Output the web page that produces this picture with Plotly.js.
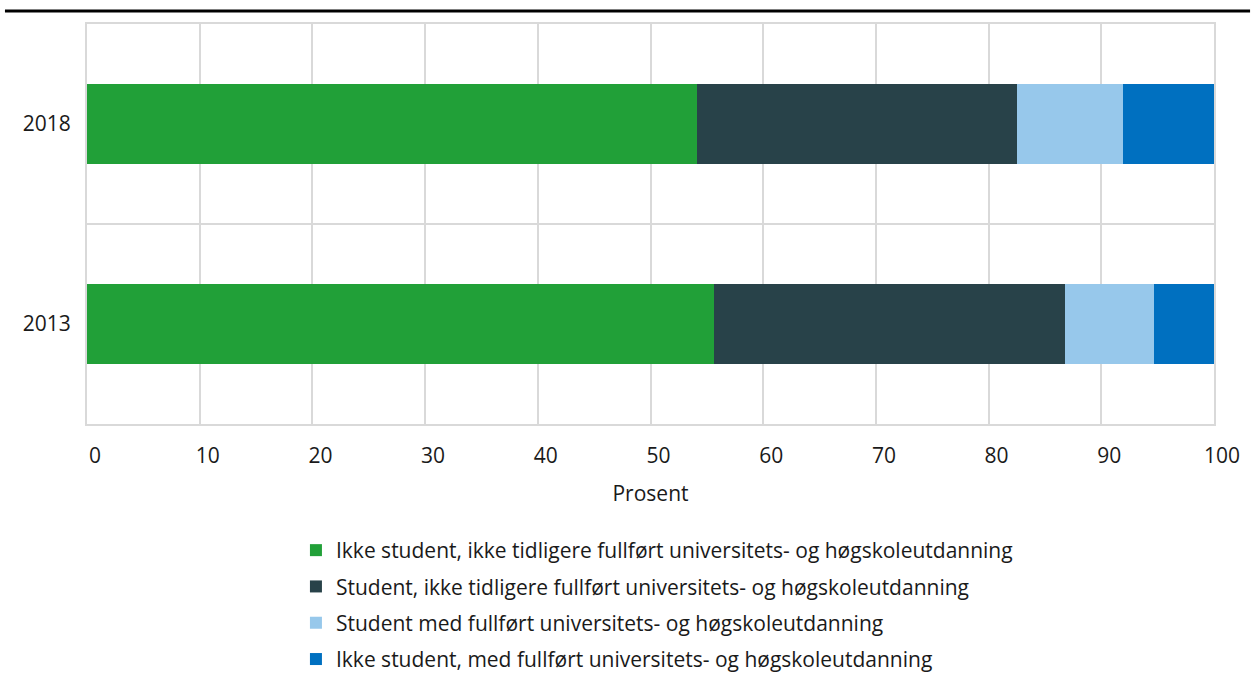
<!DOCTYPE html>
<html>
<head>
<meta charset="utf-8">
<script src="https://cdn.plot.ly/plotly-3.0.1.min.js"></script>
<style>html,body{margin:0;padding:0;background:#fff;}#chart{width:1254px;height:673px;}</style>
</head>
<body>
<div id="chart"></div>
<script>
const years = ['2013', '2018'];
const yearPos = [0, 1];
const seriesNames = [
  'Ikke student, ikke tidligere fullført universitets- og høgskoleutdanning',
  'Student, ikke tidligere fullført universitets- og høgskoleutdanning',
  'Student med fullført universitets- og høgskoleutdanning',
  'Ikke student, med fullført universitets- og høgskoleutdanning'
];
const ikkeStudentIkkeFullfort = [55.6, 54.1];
const studentIkkeFullfort = [31.2, 28.4];
const studentFullfort = [7.9, 9.4];
const ikkeStudentFullfort = [5.3, 8.1];
const xTicks = [0, 10, 20, 30, 40, 50, 60, 70, 80, 90, 100];
const colors = ['#21A038', '#284249', '#97C8EB', '#0070C0'];

const seriesValues = [ikkeStudentIkkeFullfort, studentIkkeFullfort, studentFullfort, ikkeStudentFullfort];
const font = {family: '"Open Sans", sans-serif', size: 21, color: '#1a1a1a'};

const traces = seriesValues.map((vals, i) => ({
  type: 'bar',
  orientation: 'h',
  name: seriesNames[i],
  x: vals,
  y: yearPos,
  width: 0.4,
  legendgroup: 'g' + i,
  marker: {color: colors[i], line: {width: 0}},
  hoverinfo: 'x+name'
}));

const layout = {
  width: 1254,
  height: 673,
  margin: {l: 87, r: 40, t: 24, b: 249, autoexpand: false},
  barmode: 'stack',
  paper_bgcolor: '#fff',
  plot_bgcolor: '#fff',
  font: font,
  showlegend: true,
  legend: {
    orientation: 'v',
    xref: 'container', yref: 'container',
    x: 0.236, xanchor: 'left',
    y: 0.2125, yanchor: 'top',
    traceorder: 'grouped',
    tracegroupgap: 6,
    font: font,
    itemwidth: 30
  },
  xaxis: {
    range: [0, 100],
    tickvals: xTicks,
    ticktext: xTicks.map(String),
    showgrid: true,
    gridcolor: '#d9d9d9',
    gridwidth: 2,
    zeroline: false,
    showline: true,
    mirror: true,
    linecolor: '#d9d9d9',
    linewidth: 2,
    ticks: '',
    ticklabelshift: 8,
    ticklabelstandoff: 12,
    tickfont: font,
    title: {text: 'Prosent', font: font, standoff: 18},
    fixedrange: true
  },
  yaxis: {
    range: [-0.5, 1.5],
    tickvals: yearPos,
    ticktext: years,
    showgrid: false,
    zeroline: false,
    showline: true,
    mirror: true,
    linecolor: '#d9d9d9',
    linewidth: 2,
    ticks: '',
    ticklabelstandoff: 10,
    tickfont: font,
    minor: {tickvals: [-0.5, 0.5, 1.5], showgrid: true, gridcolor: '#d9d9d9', gridwidth: 2, ticks: ''},
    fixedrange: true
  },
  shapes: [{
    type: 'line', xref: 'paper', yref: 'paper',
    x0: -0.0728, x1: 1.032, y0: 1.0325, y1: 1.0325,
    line: {color: '#000', width: 3}
  }]
};

Plotly.newPlot('chart', traces, layout, {displayModeBar: false, staticPlot: true});
</script>
</body>
</html>
